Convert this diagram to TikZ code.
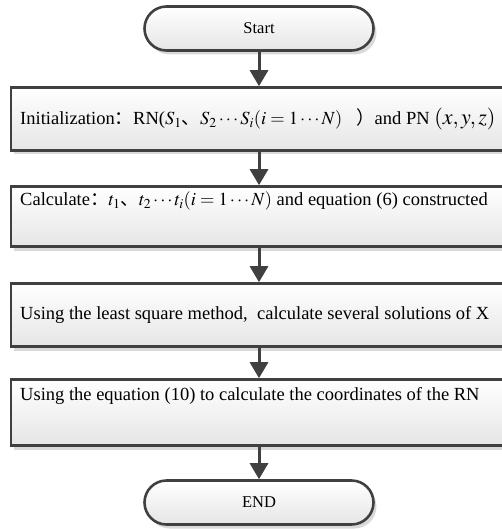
\documentclass[tikz,border=0pt]{standalone}
\usepackage{mathptmx}
\usepackage{fontspec}
\setmainfont{Liberation Serif}
\newfontfamily\cjk{Noto Sans CJK SC}
\usetikzlibrary{arrows.meta,shadows,shapes.misc}
\definecolor{edge}{HTML}{404040}
\tikzset{
 base/.style={draw=edge, line width=2.6pt, top color=white, bottom color=black!10,
   drop shadow={shadow xshift=3pt, shadow yshift=-4pt, fill=black!15, opacity=1}},
 stepbox/.style={base, rectangle, minimum width=504pt, minimum height=#1, inner sep=0pt},
 term/.style={base, rounded rectangle, minimum width=229pt, minimum height=44pt, inner sep=0pt,
   font=\fontsize{16.5}{19}\selectfont},
 lbl/.style={anchor=west, inner sep=0pt, font=\fontsize{18.5}{22}\selectfont},
 flow/.style={draw=edge, line width=3pt, -{Triangle[length=16pt,width=18pt]}},
}
\begin{document}
\begin{tikzpicture}[x=1pt,y=-1pt]
\useasboundingbox (0,0) rectangle (502,529);
\node[term] (start) at (259,28.5) {Start};
\node[stepbox=63pt] (b1) at (263,119) {};
\node[stepbox=60pt] (b2) at (263,216.5) {};
\node[stepbox=63pt] (b3) at (263,315) {};
\node[stepbox=66pt] (b4) at (263,412.5) {};
\node[term] (end) at (259,502.5) {END};
\node[lbl] (t1) at (20,119) {Initialization{\cjk ：}RN($S_1${\cjk 、}$S_2\cdots S_i(i=1\cdots N)$\ \ \ {\cjk ）}and PN {\fontsize{22}{26}\selectfont$(x,y,z)$}};
\node[lbl] (t2) at (20,201) {Calculate{\cjk ：}$t_1${\cjk 、}$t_2\cdots t_i(i=1\cdots N)$ and equation (6) constructed};
\node[lbl] (t3) at (20,315) {Using the least square method,\ \ calculate several solutions of X};
\node[lbl] (t4) at (20,396) {Using the equation (10) to calculate the coordinates of the RN};
\draw[flow] (start.south) -- (start.south |- b1.north);
\draw[flow] (start.south |- b1.south) -- (start.south |- b2.north);
\draw[flow] (start.south |- b2.south) -- (start.south |- b3.north);
\draw[flow] (start.south |- b3.south) -- (start.south |- b4.north);
\draw[flow] (start.south |- b4.south) -- (end.north);
\end{tikzpicture}
\end{document}
